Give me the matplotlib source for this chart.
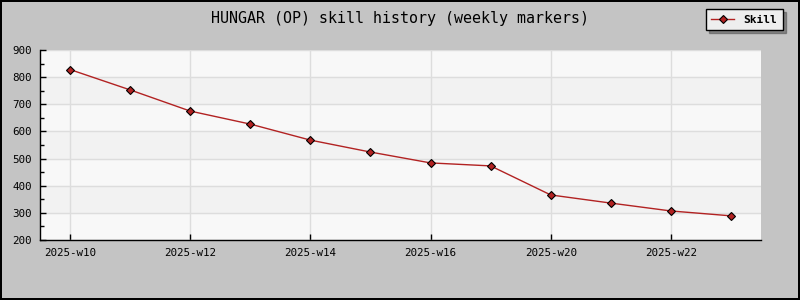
import matplotlib.pyplot as plt
from matplotlib.ticker import MultipleLocator

weeks = ['2025-w10', '2025-w11', '2025-w12', '2025-w13', '2025-w14', '2025-w15',
         '2025-w16', '2025-w18', '2025-w20', '2025-w21', '2025-w22', '2025-w23']
skill = [828, 753, 675, 627, 568, 524, 484, 473, 366, 336, 307, 289]

plt.rcParams['font.family'] = ['DejaVu Sans Mono']

fig = plt.figure(figsize=(8, 3), dpi=100, facecolor='#c4c4c4',
                 edgecolor='black', linewidth=1.5)
ax = fig.add_axes([40 / 800, 60 / 300, 721 / 800, 190 / 300])
ax.set_facecolor('#f8f8f8')

# alternating bands
for lo in range(300, 900, 200):
    ax.axhspan(lo, lo + 100, color='#f2f2f2', zorder=0)

x = list(range(len(weeks)))
ax.plot(x, skill, color='#b22222', lw=1, marker='D', markersize=4.5,
        markerfacecolor='#b22222', markeredgecolor='black', markeredgewidth=0.8,
        label='Skill', zorder=3)

ax.set_xlim(-0.5, len(weeks) - 0.5)
ax.set_ylim(200, 900)
ax.yaxis.set_major_locator(MultipleLocator(100))
ax.yaxis.set_minor_locator(MultipleLocator(50))
ax.set_xticks(x[::2])
ax.set_xticklabels(weeks[::2])
ax.grid(True, axis='both', which='major', color='#dddddd', lw=1, zorder=1)
ax.set_axisbelow(True)

for s in ['top', 'right']:
    ax.spines[s].set_visible(False)
ax.spines['left'].set_linewidth(1.0)
ax.spines['bottom'].set_linewidth(1.0)
ax.tick_params(axis='both', which='both', direction='in', labelsize=7.8,
               color='black', width=1)
ax.tick_params(axis='y', which='major', length=4, pad=6)
ax.tick_params(axis='y', which='minor', length=3)
ax.tick_params(axis='x', length=4, pad=6)

fig.text(0.5, 1 - 18 / 300, 'HUNGAR (OP) skill history (weekly markers)',
         ha='center', va='center', fontsize=10.8)

leg = fig.legend(loc='upper right', bbox_to_anchor=(783 / 800, 1 - 9 / 300),
                 frameon=True, fancybox=False, shadow=True,
                 handlelength=2.0, borderpad=0.5, handletextpad=0.9,
                 borderaxespad=0, prop={'weight': 'bold', 'size': 8})
leg.get_frame().set_edgecolor('black')
leg.get_frame().set_facecolor('#eeeeee')
leg.get_frame().set_linewidth(1)

fig.savefig('out.png', dpi=100, facecolor=fig.get_facecolor(),
            edgecolor=fig.get_edgecolor())
